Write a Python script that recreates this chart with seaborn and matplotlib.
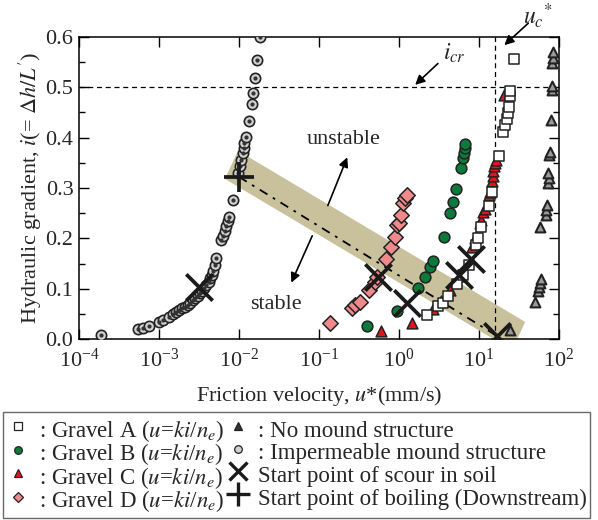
import matplotlib
matplotlib.use("Agg")
import matplotlib.pyplot as plt
from matplotlib.lines import Line2D
from matplotlib.ticker import MultipleLocator, LogLocator, NullLocator
import pandas as pd
import seaborn as sns

# ---- data (u* in mm/s, hydraulic gradient i) ----
imperm_u = [1.9e-4, 5.4e-4, 6.3e-4, 7.4e-4, 1.0e-3, 1.12e-3, 1.32e-3, 1.51e-3, 1.65e-3,
            1.78e-3, 1.95e-3, 2.09e-3, 2.3e-3, 2.45e-3, 2.65e-3, 2.82e-3, 3.05e-3, 3.24e-3,
            3.45e-3, 3.63e-3, 3.9e-3, 4.17e-3, 4.4e-3, 4.57e-3, 4.8e-3, 5.0e-3, 5.1e-3,
            6.0e-3, 6.3e-3, 6.6e-3, 6.9e-3, 7.2e-3, 7.6e-3, 8.5e-3,
            9.8e-3, 1.02e-2, 1.07e-2, 1.12e-2, 1.15e-2, 1.17e-2, 1.23e-2,
            1.35e-2, 1.45e-2, 1.48e-2, 1.58e-2, 1.70e-2, 1.82e-2]
imperm_i = [0.008, 0.019, 0.022, 0.026, 0.033, 0.038, 0.043, 0.049, 0.053,
            0.058, 0.061, 0.064, 0.068, 0.072, 0.077, 0.081, 0.086, 0.091,
            0.096, 0.101, 0.108, 0.114, 0.121, 0.127, 0.135, 0.147, 0.160,
            0.197, 0.205, 0.215, 0.225, 0.235, 0.243, 0.276,
            0.329, 0.343, 0.356, 0.369, 0.379, 0.389, 0.402,
            0.434, 0.467, 0.488, 0.518, 0.555, 0.600]

gravel_a_u = [2.21, 3.09, 3.51, 4.12, 5.37, 6.31, 7.41, 9.12, 9.77, 10.7, 13.2, 14.5,
              17.8, 20.0, 21.1, 22.4, 22.9, 23.4, 24.0, 24.5, 27.5]
gravel_a_i = [0.048, 0.066, 0.071, 0.085, 0.109, 0.127, 0.147, 0.187, 0.200, 0.223, 0.264,
              0.293, 0.364, 0.412, 0.425, 0.437, 0.449, 0.461, 0.482, 0.493, 0.556]

gravel_b_u = [0.40, 0.93, 1.74, 2.09, 2.45, 2.69, 3.63, 4.37, 4.68, 5.13, 5.89, 6.31,
              6.46, 6.61, 6.76]
gravel_b_i = [0.025, 0.056, 0.102, 0.123, 0.143, 0.155, 0.203, 0.250, 0.272, 0.297, 0.339,
              0.359, 0.370, 0.380, 0.388]

gravel_c_u = [0.60, 1.45, 2.69, 3.31, 4.37, 5.75, 8.13, 8.91, 10.2, 10.7, 11.2, 11.9,
              13.2, 13.8, 14.5, 14.8, 15.1, 15.5, 15.8, 16.2, 20.4]
gravel_c_i = [0.015, 0.032, 0.060, 0.075, 0.097, 0.125, 0.183, 0.200, 0.230, 0.237, 0.253,
              0.258, 0.286, 0.293, 0.313, 0.323, 0.333, 0.343, 0.350, 0.356, 0.485]

gravel_d_u = [0.138, 0.257, 0.282, 0.324, 0.417, 0.50, 0.525, 0.69, 0.79, 0.89, 0.95,
              1.0, 1.07, 1.13, 1.19, 1.25]
gravel_d_i = [0.031, 0.061, 0.068, 0.074, 0.097, 0.114, 0.124, 0.158, 0.183, 0.202, 0.227,
              0.231, 0.247, 0.270, 0.280, 0.286]

nomound_u = [24.0, 50.1, 55.0, 56.2, 57.5, 58.9, 57.5, 67.6, 69.2, 70.0, 72.4, 74.1, 73.3,
             74.1, 75.9, 79.4, 81.3, 81.3, 81.3, 83.2, 83.2]
nomound_i = [0.018, 0.074, 0.096, 0.103, 0.111, 0.119, 0.223, 0.247, 0.256, 0.266, 0.31,
             0.32, 0.33, 0.366, 0.372, 0.435, 0.495, 0.503, 0.548, 0.558, 0.571]

scour_u = [3.2e-3, 0.54, 1.25, 5.6, 7.9, 16.6]
scour_i = [0.103, 0.124, 0.072, 0.127, 0.159, 0.007]

boil_u = [0.01]
boil_i = [0.322]

band_u = [0.00972, 37.6, 25.9, 0.00668]
band_i = [0.374, 0.034, -0.022, 0.318]
trend_u = [0.01, 16.8]
trend_i = [0.322, 0.006]

i_cr = 0.5
u_c = 16.0

# ---- style ----
sns.set_theme(style="ticks")
plt.rcParams["font.family"] = ["Liberation Serif", "DejaVu Serif"]
plt.rcParams["mathtext.fontset"] = "stix"

fig = plt.figure(figsize=(5.98, 5.20), dpi=100)
ax = fig.add_axes([0.132, 0.348, 0.803, 0.581])

# shaded transition band and trend line
ax.fill(band_u, band_i, color="#c8c19b", lw=0, zorder=1)
ax.plot(trend_u, trend_i, color="black", lw=1.3, ls=(0, (5, 3.5, 1.5, 3.5)), zorder=2)

# reference lines
ax.axhline(i_cr, color="black", lw=0.9, ls=(0, (4, 3)), zorder=1.5)
ax.axvline(u_c, color="black", lw=0.9, ls=(0, (4, 3)), zorder=1.5)

edge = "#222222"
series = [
    (imperm_u, imperm_i, "o", "#d0d0d0", 55, 1.2),
    (nomound_u, nomound_i, "^", "#9a9a9a", 50, 1.5),
    (gravel_d_u, gravel_d_i, "D", "#f08a8a", 62, 1.1),
    (gravel_b_u, gravel_b_i, "o", "#0b7a3b", 60, 1.1),
    (gravel_c_u, gravel_c_i, "^", "#e3141c", 60, 1.1),
    (gravel_a_u, gravel_a_i, "s", "white", 60, 1.1),
]
for u, i, mk, fc, s, lw in series:
    df = pd.DataFrame({"u": u, "i": i})
    sns.scatterplot(data=df, x="u", y="i", marker=mk, s=s, color=fc, edgecolor=edge,
                    linewidth=lw, ax=ax, zorder=3, legend=False)

# inner dot of the impermeable-mound double circles
sns.scatterplot(x=imperm_u, y=imperm_i, marker="o", s=9, color="#333333", linewidth=0,
                ax=ax, zorder=3.5, legend=False)

# start points
sns.scatterplot(x=scour_u, y=scour_i, marker="x", s=360, color="#1a1a1a", linewidth=2.7,
                ax=ax, zorder=4, legend=False)
sns.scatterplot(x=boil_u, y=boil_i, marker="+", s=440, color="#1a1a1a", linewidth=2.7,
                ax=ax, zorder=4, legend=False)

# axes
ax.set_xscale("log")
ax.set_xlim(1e-4, 1e2)
ax.set_ylim(0, 0.6)
ax.xaxis.set_major_locator(LogLocator(base=10, numticks=10))
ax.xaxis.set_minor_locator(NullLocator())
ax.yaxis.set_major_locator(MultipleLocator(0.1))
ax.yaxis.set_minor_locator(MultipleLocator(0.05))
ax.yaxis.set_major_formatter(plt.FormatStrFormatter("%.1f"))
ax.tick_params(which="both", direction="in", top=True, right=True, color="black",
               labelsize=16)
ax.tick_params(axis="x", pad=7)
ax.tick_params(axis="y", pad=4)
ax.tick_params(which="major", length=7, width=1)
ax.tick_params(which="minor", length=4, width=1)
for sp in ax.spines.values():
    sp.set_color("black")
    sp.set_linewidth(1.1)

ax.set_xlabel(r"Friction velocity, $u$*(mm/s)", fontsize=16, labelpad=9)
ax.set_ylabel(r"Hydraulic gradient, $i$(= $\Delta h/L'$)", fontsize=16, labelpad=1)

# annotations
arrow = dict(arrowstyle="-|>", color="black", lw=1.2, mutation_scale=14)
ax.annotate("", xy=(0.232, 0.366), xytext=(0.125, 0.26), arrowprops=arrow, zorder=5)
ax.annotate("", xy=(0.0436, 0.107), xytext=(0.085, 0.21), arrowprops=arrow, zorder=5)
ax.text(0.2, 0.397, "unstable", fontsize=16, ha="center", va="center")
ax.text(0.029, 0.068, "stable", fontsize=16, ha="center", va="center")

ax.annotate("", xy=(1.5, 0.501), xytext=(3.24, 0.551), arrowprops=arrow)
ax.text(3.5, 0.567, r"$i_{cr}$", fontsize=17, ha="left", va="center")
ax.annotate("", xy=(19.5, 0.58), xytext=(43.7, 0.631), arrowprops=arrow,
            annotation_clip=False)
ax.text(35.5, 0.642, r"$u_c{}^{*}$", fontsize=17, ha="left", va="center", clip_on=False)

# legend
small = dict(ls="none", markeredgecolor=edge, markeredgewidth=0.9, markersize=5.5)
handles = [
    Line2D([], [], marker="s", markerfacecolor="white", **small),
    Line2D([], [], marker="o", markerfacecolor="#0b7a3b", **small),
    Line2D([], [], marker="^", markerfacecolor="#e3141c", **small),
    Line2D([], [], marker="D", markerfacecolor="#f08a8a", **small),
    Line2D([], [], marker="^", markerfacecolor="#333333", **small),
    Line2D([], [], marker="o", markerfacecolor="#d0d0d0", **small),
    Line2D([], [], marker="x", color="#1a1a1a", ls="none", markersize=13, markeredgewidth=2.4),
    Line2D([], [], marker="+", color="#1a1a1a", ls="none", markersize=17, markeredgewidth=2.4),
]
labels = [
    r": Gravel A ($u$=$ki$/$n_e$)",
    r": Gravel B ($u$=$ki$/$n_e$)",
    r": Gravel C ($u$=$ki$/$n_e$)",
    r": Gravel D ($u$=$ki$/$n_e$)",
    ": No mound structure",
    ": Impermeable mound structure",
    "Start point of scour in soil",
    "Start point of boiling (Downstream)",
]
leg = fig.legend(handles, labels, ncol=2, loc="lower left",
                 bbox_to_anchor=(0.005, 0.004),
                 fontsize=16.5, frameon=True, fancybox=False, edgecolor="#444444",
                 handlelength=1.0, handleheight=1.45, handletextpad=0.4,
                 columnspacing=0.1, labelspacing=-0.2, borderpad=0.15,
                 borderaxespad=0)
leg.get_frame().set_linewidth(1.0)

fig.savefig("out.png", dpi=100)
